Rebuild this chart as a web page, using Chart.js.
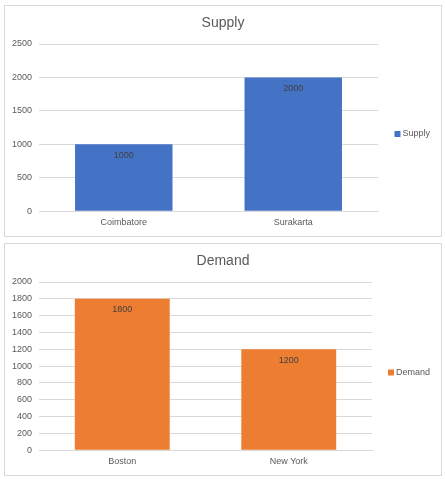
<!DOCTYPE html>
<html><head><meta charset="utf-8">
<script src="https://cdn.jsdelivr.net/npm/chart.js@4.4.0/dist/chart.umd.min.js"></script>
<style>
html,body{margin:0;padding:0;background:#fff;}
.box{position:absolute;border:1px solid #d9d9d9;background:#fff;box-sizing:border-box;}
.box canvas{display:block;}
</style></head><body>
<div class="box" id="b1" style="left:4px;top:5px;width:438px;height:232px;"><canvas id="c1"></canvas></div>
<div class="box" id="b2" style="left:4px;top:243px;width:438px;height:233px;"><canvas id="c2"></canvas></div>
<script>
const supplyCategories = ["Coimbatore", "Surakarta"];
const supplyValues = [1000, 2000];
const supplyTicks = [0, 500, 1000, 1500, 2000, 2500];
const demandCategories = ["Boston", "New York"];
const demandValues = [1800, 1200];
const demandTicks = [0, 200, 400, 600, 800, 1000, 1200, 1400, 1600, 1800, 2000];

const FONT = "'Liberation Sans', 'DejaVu Sans', sans-serif";
const TXT = '#595959';
const LEG_FONT = '9px ' + FONT;
const TITLE_FONT = '14px ' + FONT;

const labelPlugin = {
  id: 'insideEndLabels',
  afterDatasetsDraw(chart) {
    const ctx = chart.ctx;
    const meta = chart.getDatasetMeta(0);
    ctx.save();
    ctx.fillStyle = '#404040';
    ctx.font = '9px ' + FONT;
    ctx.textAlign = 'center';
    ctx.textBaseline = 'middle';
    meta.data.forEach((bar, i) => {
      ctx.fillText(String(chart.data.datasets[0].data[i]), bar.x, bar.y + 11);
    });
    ctx.restore();
  }
};

const sideLegendAndTitle = {
  id: 'sideLegendAndTitle',
  afterDraw(chart) {
    const ctx = chart.ctx;
    const ds = chart.data.datasets[0];
    ctx.save();
    // title centred over the whole chart
    ctx.font = TITLE_FONT;
    ctx.fillStyle = TXT;
    ctx.textAlign = 'center';
    ctx.textBaseline = 'middle';
    ctx.fillText(ds.label, chart.width / 2, 17);
    // legend on the right
    ctx.font = LEG_FONT;
    const tw = ctx.measureText(ds.label).width;
    const textX = chart.width - 11 - tw;
    const y = chart.height / 2 + 13;
    ctx.fillStyle = ds.backgroundColor;
    ctx.fillRect(textX - 8, y - 3, 6, 6);
    ctx.fillStyle = TXT;
    ctx.textAlign = 'left';
    ctx.fillText(ds.label, textX, y);
    ctx.restore();
  }
};

function makeChart(id, title, cats, vals, ticks, color, barPct) {
  const tmax = ticks[ticks.length - 1];
  const step = ticks[1] - ticks[0];
  const canvas = document.getElementById(id);
  const box = canvas.parentElement;
  canvas.width = box.clientWidth;
  canvas.height = box.clientHeight;
  const mctx = canvas.getContext('2d');
  mctx.font = LEG_FONT;
  const rightPad = Math.round(11 + mctx.measureText(title).width + 8 + 16);
  return new Chart(canvas, {
    type: 'bar',
    data: { labels: cats, datasets: [{ label: title, data: vals, backgroundColor: color, barPercentage: barPct, categoryPercentage: 1 }] },
    options: {
      responsive: false, animation: false, devicePixelRatio: 1,
      layout: { padding: { left: 0, right: rightPad, top: 38, bottom: 2 } },
      plugins: {
        title: { display: false },
        legend: { display: false },
        tooltip: { enabled: false }
      },
      scales: {
        x: { grid: { display: false, drawTicks: false }, border: { color: '#d9d9d9' }, ticks: { color: TXT, font: { family: FONT, size: 9 }, padding: 6 } },
        y: { min: 0, max: tmax, border: { display: false }, grid: { color: '#d9d9d9', drawTicks: false }, ticks: { stepSize: step, color: TXT, font: { family: FONT, size: 9 }, padding: 7, callback: v => String(v) } }
      }
    },
    plugins: [labelPlugin, sideLegendAndTitle]
  });
}

makeChart('c1', 'Supply', supplyCategories, supplyValues, supplyTicks, '#4472c4', 0.575);
makeChart('c2', 'Demand', demandCategories, demandValues, demandTicks, '#ed7d31', 0.57);
</script>
</body></html>
